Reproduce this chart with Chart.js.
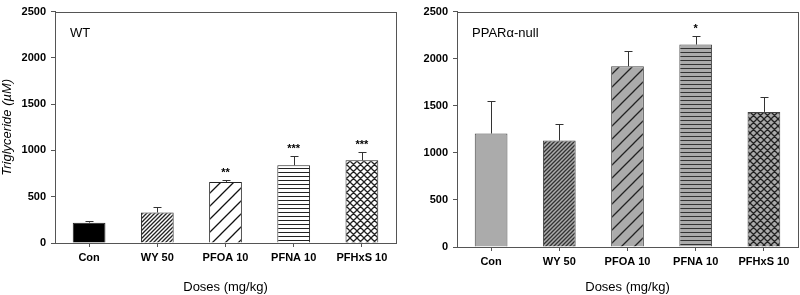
<!DOCTYPE html>
<html>
<head>
<meta charset="utf-8">
<script src="https://cdn.jsdelivr.net/npm/chart.js@4/dist/chart.umd.min.js"></script>
<style>
  body { margin: 0; background: #fff; }
  .box { position: absolute; top: 0; height: 295px; width: 400px; }
  #left { left: 0; }
  #right { left: 400px; }
</style>
</head>
<body>
<div class="box" id="left"><canvas id="wtChart" width="400" height="295"></canvas></div>
<div class="box" id="right"><canvas id="nullChart" width="400" height="295"></canvas></div>
<script>
// data
const categories = ['Con', 'WY 50', 'PFOA 10', 'PFNA 10', 'PFHxS 10'];
const wtMeans = [220, 330, 660, 840, 893];
const wtErrors = [20, 55, 25, 105, 95];
const wtStars = ['', '', '**', '***', '***'];
const nullMeans = [1205, 1130, 1920, 2150, 1435];
const nullErrors = [345, 175, 165, 90, 160];
const nullStars = ['', '', '', '*', ''];
const yTicks = [0, 500, 1000, 1500, 2000, 2500];

const FONT = "'Liberation Sans', Arial, sans-serif";

// make a fill pattern for the bars
function makePattern(kind, bg, fg) {
    const size = { dense: 4, sparse: 13, horiz: 4, cross: 7 }[kind];
    const c = document.createElement('canvas');
    c.width = size; c.height = size;
    const g = c.getContext('2d');
    g.fillStyle = bg;
    g.fillRect(0, 0, size, size);
    g.strokeStyle = fg;
    g.lineWidth = 1.3;
    if (kind === 'dense' || kind === 'sparse' || kind === 'cross') {
        g.beginPath();
        g.moveTo(-1, size + 1); g.lineTo(size + 1, -1);
        g.moveTo(-1, 1); g.lineTo(1, -1);
        g.moveTo(size - 1, size + 1); g.lineTo(size + 1, size - 1);
        if (kind === 'cross') {
            g.moveTo(-1, -1); g.lineTo(size + 1, size + 1);
            g.moveTo(size - 1, -1); g.lineTo(size + 1, 1);
            g.moveTo(-1, size - 1); g.lineTo(1, size + 1);
        }
        g.stroke();
    } else if (kind === 'horiz') {
        g.fillStyle = fg;
        g.fillRect(0, 0, size, 1);
    }
    return g.createPattern(c, 'repeat');
}

// error bars, stars, frame and panel label
function overlayPlugin(errors, stars, means, label) {
    return {
        id: 'overlay',
        afterDatasetsDraw(chart) {
            const ctx = chart.ctx;
            const y = chart.scales.y;
            const meta = chart.getDatasetMeta(0);
            ctx.save();
            ctx.strokeStyle = '#333';
            ctx.lineWidth = 1;
            meta.data.forEach((bar, i) => {
                const top = y.getPixelForValue(means[i] + errors[i]);
                const x = Math.round(bar.x) + 0.5;
                ctx.beginPath();
                ctx.moveTo(x, bar.y);
                ctx.lineTo(x, Math.round(top) + 0.5);
                ctx.moveTo(x - 4, Math.round(top) + 0.5);
                ctx.lineTo(x + 4, Math.round(top) + 0.5);
                ctx.stroke();
                if (stars[i]) {
                    ctx.fillStyle = '#000';
                    ctx.font = 'bold 11px ' + FONT;
                    ctx.textAlign = 'center';
                    ctx.textBaseline = 'middle';
                    ctx.fillText(stars[i], bar.x, top - 7);
                }
            });
            const a = chart.chartArea;
            ctx.strokeStyle = '#555';
            ctx.strokeRect(Math.round(a.left) + 0.5, Math.round(a.top) + 0.5,
                Math.round(a.right - a.left), Math.round(a.bottom - a.top));
            ctx.fillStyle = '#000';
            ctx.font = '13px ' + FONT;
            ctx.textAlign = 'left';
            ctx.textBaseline = 'middle';
            ctx.fillText(label, a.left + 15, a.top + 22);
            ctx.restore();
        }
    };
}

function buildChart(id, means, errors, stars, label, fills, opts) {
    const ctx = document.getElementById(id).getContext('2d');
    return new Chart(ctx, {
        type: 'bar',
        data: {
            labels: categories,
            datasets: [{
                data: means,
                backgroundColor: fills,
                borderColor: opts.border,
                borderWidth: 1,
                categoryPercentage: 1,
                barPercentage: 0.48
            }]
        },
        options: {
            responsive: false,
            animation: false,
            layout: { padding: opts.padding },
            plugins: { legend: { display: false }, tooltip: { enabled: false } },
            scales: {
                x: {
                    grid: { offset: false, drawOnChartArea: false, tickLength: 4, color: '#555' },
                    border: { color: '#555' },
                    ticks: { color: '#000', font: { family: FONT, size: 11, weight: 'bold' }, padding: 4, maxRotation: 0 },
                    title: { display: true, text: 'Doses (mg/kg)', color: '#000', font: { family: FONT, size: 13 }, padding: { top: 6, bottom: 0 } },
                    afterFit(s) { s.height = opts.xHeight; }
                },
                y: {
                    min: 0, max: 2500,
                    afterBuildTicks(s) { s.ticks = yTicks.map(v => ({ value: v })); },
                    grid: { drawOnChartArea: false, tickLength: 4, color: '#555' },
                    border: { color: '#555' },
                    ticks: { color: '#000', font: { family: FONT, size: 11, weight: 'bold' }, padding: 5,
                        callback: v => String(v) },
                    title: { display: opts.yTitle, text: 'Triglyceride (\u00b5M)', color: '#000', font: { family: FONT, size: 13, style: 'italic' }, padding: 0 },
                    afterFit(s) { s.width = opts.yWidth; }
                }
            }
        },
        plugins: [overlayPlugin(errors, stars, means, label)]
    });
}

const wtFills = [
    '#000',
    makePattern('dense', '#fff', '#222'),
    makePattern('sparse', '#fff', '#111'),
    makePattern('horiz', '#fff', '#222'),
    makePattern('cross', '#fff', '#222')
];
const nullFills = [
    '#ababab',
    makePattern('dense', '#ababab', '#333'),
    makePattern('sparse', '#ababab', '#222'),
    makePattern('horiz', '#ababab', '#333'),
    makePattern('cross', '#ababab', '#222')
];

buildChart('wtChart', wtMeans, wtErrors, wtStars, 'WT', wtFills,
    { border: '#222', padding: { top: 5, right: 4, left: 0, bottom: 0 }, xHeight: 52, yWidth: 55, yTitle: true });
buildChart('nullChart', nullMeans, nullErrors, nullStars, 'PPAR\u03b1-null', nullFills,
    { border: '#444', padding: { top: 8, right: 2, left: 0, bottom: 0 }, xHeight: 48, yWidth: 57, yTitle: false });
</script>
</body>
</html>
